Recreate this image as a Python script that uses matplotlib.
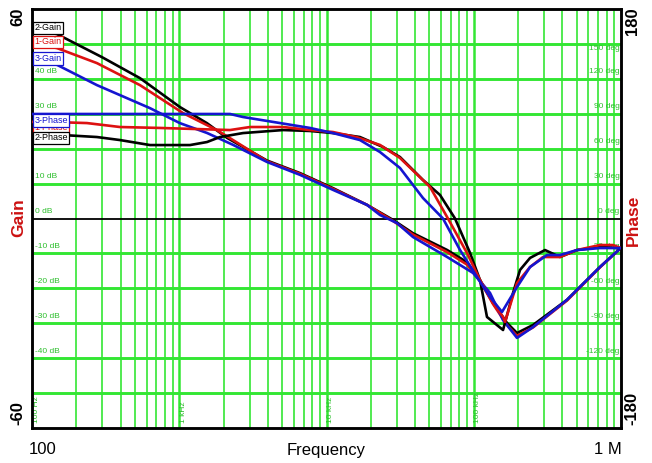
import matplotlib
matplotlib.use("Agg")
import matplotlib.pyplot as plt

# ---------------- data ----------------
gain2_f = [100, 148, 299, 541, 1012, 1543, 2110, 3942, 6610, 11070, 18840, 28300, 38650,
           65800, 89960, 110200, 135200, 168200, 196700, 252600, 429700, 719400, 1000000]
gain2_db = [54.6, 52.8, 46.2, 40.2, 31.9, 27.3, 23.1, 16.6, 13.0, 8.7, 3.9, -0.4, -4.2,
            -9.0, -12.5, -17.6, -24.2, -29.9, -32.8, -30.5, -23.3, -13.9, -8.4]

gain1_f = [100, 148, 276, 541, 1060, 1804, 2213, 3942, 6610, 11070, 18840, 28300, 38650,
           65800, 89960, 110200, 135200, 168200, 196700, 252600, 429700, 719400, 1000000]
gain1_db = [50.3, 48.8, 44.5, 38.2, 30.2, 25.3, 23.0, 16.4, 12.8, 8.5, 3.9, -0.7, -4.6,
            -9.6, -13.2, -17.8, -24.5, -30.5, -33.6, -31.2, -23.5, -14.0, -8.4]

gain3_f = [100, 148, 276, 633, 1012, 1543, 2317, 3942, 6610, 11070, 18840, 23080, 30100,
           38650, 65800, 98900, 128900, 158100, 196700, 252600, 429700, 719400, 1000000]
gain3_db = [45.7, 44.0, 38.2, 31.6, 27.3, 24.5, 21.1, 16.2, 12.5, 8.2, 3.9, 1.0, -1.3,
            -5.3, -11.0, -15.6, -21.3, -29.1, -34.2, -31.1, -23.3, -13.9, -8.4]

phase3_f = [100, 2213, 2710, 4833, 7727, 11070, 16870, 23080, 31560, 45200, 61800, 80700,
            105200, 128900, 155600, 196700, 241100, 314300, 385200, 502500, 719400, 1000000]
phase3_deg = [89.8, 89.8, 87.2, 82.0, 77.8, 73.4, 67.4, 57.1, 43.4, 17.6, 0.0, -27.1,
              -50.3, -67.4, -80.3, -58.9, -41.7, -31.4, -31.4, -27.1, -25.4, -25.4]

phase1_f = [100, 139, 236, 396, 740, 2213, 3022, 5068, 7727, 11070, 16000, 23080, 31560,
            50470, 66800, 89960, 110200, 135200, 158100, 163000, 196700, 241100, 295300,
            385200, 502500, 719400, 881700, 1000000]
phase1_deg = [83.0, 82.9, 82.0, 78.6, 77.8, 76.0, 78.6, 78.6, 76.0, 74.3, 69.9, 63.2, 52.0,
              27.1, 0.0, -29.6, -52.8, -72.6, -84.6, -88.9, -55.4, -41.7, -33.1,
              -33.1, -27.1, -22.8, -22.8, -25.4]

phase2_f = [100, 162, 276, 396, 633, 1183, 1543, 1891, 2710, 5068, 7727, 11070, 16870, 24190,
            31560, 45200, 59000, 74600, 94400, 110200, 123000, 158100, 184800, 206200,
            241100, 304700, 385200, 502500, 719400, 1000000]
phase2_deg = [73.4, 71.7, 70.0, 67.4, 63.1, 63.1, 65.7, 70.0, 73.4, 76.0, 75.2, 73.4, 70.0, 61.4,
              52.8, 33.1, 20.2, 0.0, -29.6, -52.8, -84.6, -95.8, -64.0, -44.2,
              -33.9, -27.1, -33.1, -27.1, -24.5, -25.4]

gain_labels = [40, 30, 10, 0, -10, -20, -30, -40]
phase_labels = [150, 120, 90, 60, 30, 0, -30, -60, -90, -120]
freq_labels = [(100, "100 Hz"), (1000, "1 kHz"), (10000, "10 kHz"), (100000, "100 kHz")]

# ---------------- style ----------------
GREEN = "#33e633"
TGREEN = "#2dbf2d"
RED = "#dd1111"
BLUE = "#1515d0"
BLACK = "#000000"
NARROW = ["Liberation Sans Narrow", "Liberation Sans", "DejaVu Sans"]
SANS = ["Liberation Sans", "DejaVu Sans"]

fig = plt.figure(figsize=(6.52, 4.63), dpi=100)
fig.patch.set_facecolor("white")
ax = fig.add_axes([32 / 652, 1 - 428 / 463, 589 / 652, 419 / 463])
ax.set_xscale("log")
ax.set_xlim(100, 1e6)
ax.set_ylim(-60, 60)
ax2 = ax.twinx()
ax2.set_ylim(-180, 180)
ax2.patch.set_visible(False)

for a in (ax, ax2):
    a.set_xticks([])
    a.set_yticks([])
    a.minorticks_off()
    for s in a.spines.values():
        s.set_linewidth(1.8)
        s.set_color("black")
ax.tick_params(which="both", length=0, labelbottom=False, labelleft=False)
ax2.tick_params(which="both", length=0, labelright=False)

# grid
for dec in [100, 1000, 10000, 100000]:
    for m in range(1, 10):
        f = dec * m
        if f <= 100 or f >= 1e6:
            continue
        ax.axvline(f, color=GREEN, lw=1.8 if m == 1 else 1.2, zorder=1)
for v in range(-50, 60, 10):
    if v == 0:
        ax.axhline(0, color="black", lw=1.3, zorder=1.5)
    else:
        ax.axhline(v, color=GREEN, lw=2.1, zorder=1)

# inner labels
for v in gain_labels:
    ax.annotate(f"{v} dB", xy=(0, v), xycoords=ax.get_yaxis_transform(),
                xytext=(2, 5), textcoords="offset points", ha="left", va="center",
                fontsize=6, color=TGREEN, family=NARROW, zorder=2)
for v in phase_labels:
    off = -3.5 if v == 150 else 5
    ax.annotate(f"{v} deg", xy=(1, v), xycoords=ax2.get_yaxis_transform(),
                xytext=(-1, off), textcoords="offset points", ha="right", va="center",
                fontsize=6, color=TGREEN, family=NARROW, zorder=2)
for f, lab in freq_labels:
    ax.annotate(lab, xy=(f, 0), xycoords=ax.get_xaxis_transform(),
                xytext=(3, 3.5), textcoords="offset points", rotation=90,
                ha="center", va="bottom", fontsize=6, color=TGREEN, family=NARROW, zorder=2)

# curves
lw = 1.9
ax.plot(gain2_f, gain2_db, color=BLACK, lw=lw, zorder=3)
ax.plot(gain1_f, gain1_db, color=RED, lw=lw, zorder=3)
ax.plot(gain3_f, gain3_db, color=BLUE, lw=lw, zorder=3)
ax2.plot(phase2_f, phase2_deg, color=BLACK, lw=lw, zorder=3)
ax2.plot(phase1_f, phase1_deg, color=RED, lw=lw, zorder=3)
ax2.plot(phase3_f, phase3_deg, color=BLUE, lw=lw, zorder=3)

# legend boxes (axes coords from pixel centres)
def box(text, ypix, color, z):
    yfrac = (428 - ypix) / 419
    ax2.text(0.004, yfrac, text, transform=ax2.transAxes, ha="left", va="center",
             fontsize=6.5, color=color, family=NARROW, zorder=z,
             bbox=dict(boxstyle="square,pad=0.18", fc="white", ec=color, lw=0.9))

box("2-Gain", 28, BLACK, 10)
box("1-Gain", 42, RED, 10)
box("3-Gain", 58.5, BLUE, 10)
box("1-Phase", 128, RED, 10)
box("3-Phase", 120.5, BLUE, 11)
box("2-Phase", 138, BLACK, 11)

# outer texts
def ftext(x, y, s, **kw):
    fig.text(x / 652, 1 - y / 463, s, ha="center", va="center", **kw)

ftext(18, 17, "60", rotation=90, fontsize=12, fontweight="bold", family=SANS)
ftext(18, 413, "-60", rotation=90, fontsize=12, fontweight="bold", family=SANS)
ftext(19, 218, "Gain", rotation=90, fontsize=12.5, fontweight="bold", color="#cc1111", family=SANS)
ftext(632, 21, "180", rotation=90, fontsize=12, fontweight="bold", family=SANS)
ftext(632, 408, "-180", rotation=90, fontsize=12, fontweight="bold", family=SANS)
ftext(633, 220, "Phase", rotation=90, fontsize=12.5, fontweight="bold", color="#cc1111", family=SANS)
ftext(43, 450, "100", fontsize=12, family=NARROW)
ftext(326, 450, "Frequency", fontsize=12, family=NARROW)
ftext(608, 450, "1 M", fontsize=12, family=NARROW)

fig.savefig("out.png", dpi=100, facecolor="white")
